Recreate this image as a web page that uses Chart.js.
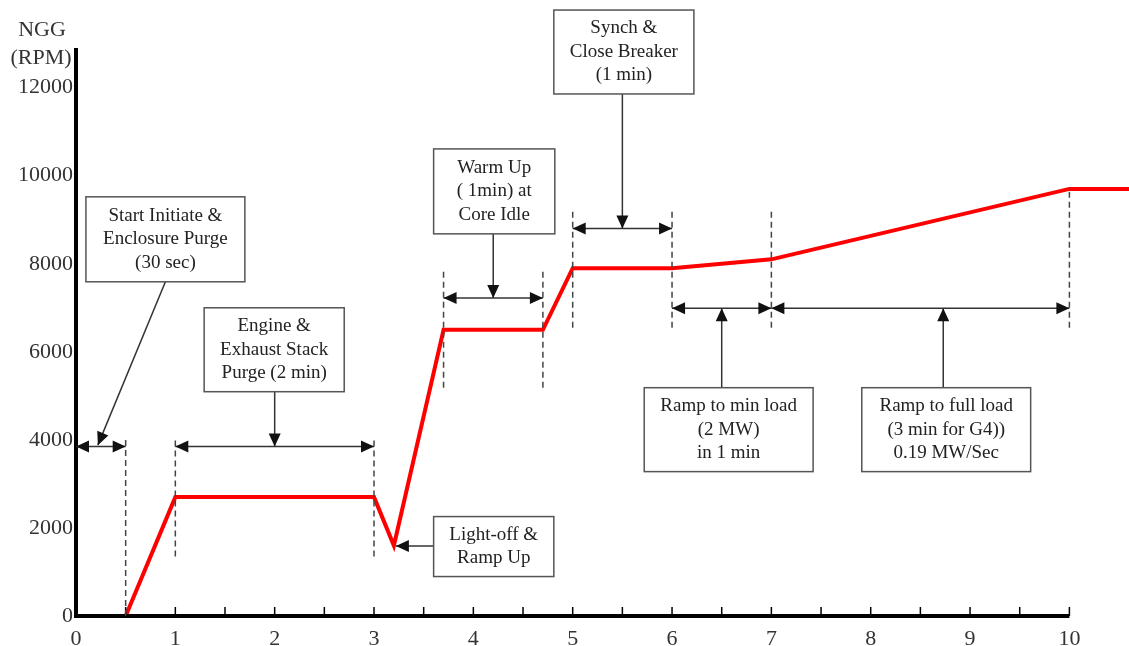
<!DOCTYPE html>
<html>
<head>
<meta charset="utf-8">
<script src="https://cdn.jsdelivr.net/npm/chart.js@4"></script>
<style>
  html, body { margin: 0; padding: 0; background: #fff; }
  #wrap { width: 1129px; height: 646px; }
</style>
</head>
<body>
<div id="wrap"><canvas id="nggChart"></canvas></div>
<script>
// start-up profile: time (min) vs NGG (RPM)
const timeMin = [0.5, 1, 3, 3.2, 3.7, 4.7, 5, 6, 7, 10, 10.6];
const nggRpm = [0, 2700, 2700, 1600, 6500, 6500, 7900, 7900, 8100, 9700, 9700];
const xTicks = [0, 1, 2, 3, 4, 5, 6, 7, 8, 9, 10];
const yTicks = [0, 2000, 4000, 6000, 8000, 10000, 12000];

// callouts, all in data units (min, RPM)
const boxes = [
  { lines: ['Start Initiate &', 'Enclosure Purge', '(30 sec)'], x1: 0.10, x2: 1.70, top: 9520, bottom: 7590 },
  { lines: ['Engine &', 'Exhaust Stack', 'Purge (2 min)'], x1: 1.29, x2: 2.70, top: 7000, bottom: 5094 },
  { lines: ['Light-off &', 'Ramp Up'], x1: 3.60, x2: 4.81, top: 2258, bottom: 896 },
  { lines: ['Warm Up', '( 1min) at', 'Core Idle'], x1: 3.60, x2: 4.82, top: 10608, bottom: 8679 },
  { lines: ['Synch &', 'Close Breaker', '(1 min)'], x1: 4.81, x2: 6.22, top: 13762, bottom: 11856 },
  { lines: ['Ramp to min load', '(2 MW)', 'in 1 min'], x1: 5.72, x2: 7.42, top: 5185, bottom: 3279 },
  { lines: ['Ramp to full load', '(3 min for G4))', '0.19 MW/Sec'], x1: 7.91, x2: 9.61, top: 5185, bottom: 3279 }
];
const spans = [
  { x1: 0, x2: 0.5, y: 3850 },
  { x1: 1, x2: 3, y: 3850 },
  { x1: 3.7, x2: 4.7, y: 7220 },
  { x1: 5, x2: 6, y: 8800 },
  { x1: 6, x2: 7, y: 6990 },
  { x1: 7, x2: 10, y: 6990 }
];
const pointers = [
  { x1: 0.90, y1: 7590, x2: 0.22, y2: 3880 },
  { x1: 2.0, y1: 5094, x2: 2.0, y2: 3850 },
  { x1: 3.60, y1: 1590, x2: 3.22, y2: 1590 },
  { x1: 4.2, y1: 8679, x2: 4.2, y2: 7220 },
  { x1: 5.5, y1: 11856, x2: 5.5, y2: 8800 },
  { x1: 6.5, y1: 5185, x2: 6.5, y2: 6990 },
  { x1: 8.73, y1: 5185, x2: 8.73, y2: 6990 }
];
const guides = [
  { x: 0.5, y1: 0, y2: 4070 },
  { x: 1, y1: 1350, y2: 4030 },
  { x: 3, y1: 1350, y2: 4030 },
  { x: 3.7, y1: 5185, y2: 7885 },
  { x: 4.7, y1: 5185, y2: 7885 },
  { x: 5, y1: 6546, y2: 9246 },
  { x: 6, y1: 6546, y2: 9246 },
  { x: 7, y1: 6546, y2: 9246 },
  { x: 10, y1: 6546, y2: 9745 }
];

const serif = 'Liberation Serif, "Times New Roman", serif';

function arrowHead(ctx, tx, ty, fx, fy) {
  const a = Math.atan2(ty - fy, tx - fx);
  const len = 13, half = 6;
  ctx.beginPath();
  ctx.moveTo(tx, ty);
  ctx.lineTo(tx - len * Math.cos(a) + half * Math.sin(a), ty - len * Math.sin(a) - half * Math.cos(a));
  ctx.lineTo(tx - len * Math.cos(a) - half * Math.sin(a), ty - len * Math.sin(a) + half * Math.cos(a));
  ctx.closePath();
  ctx.fill();
}

const overlay = {
  id: 'overlay',
  afterDatasetsDraw(chart) {
    const { ctx, chartArea } = chart;
    const xs = chart.scales.x, ys = chart.scales.y;
    const px = v => xs.getPixelForValue(v);
    const py = v => ys.getPixelForValue(v);
    ctx.save();

    // axes
    ctx.strokeStyle = '#000';
    ctx.lineWidth = 4;
    ctx.beginPath();
    ctx.moveTo(px(0), py(0) + 2);
    ctx.lineTo(px(0), chartArea.top);
    ctx.moveTo(px(0) - 2, py(0));
    ctx.lineTo(px(10), py(0));
    ctx.stroke();
    ctx.lineWidth = 1.5;
    ctx.beginPath();
    for (let t = 0.5; t <= 10; t += 0.5) {
      ctx.moveTo(px(t), py(0));
      ctx.lineTo(px(t), py(0) - 9);
    }
    ctx.stroke();

    // axis title
    ctx.fillStyle = '#333';
    ctx.font = '22px ' + serif;
    ctx.textAlign = 'center';
    ctx.textBaseline = 'middle';
    ctx.fillText('NGG', chartArea.left - 34, 30);
    ctx.fillText('(RPM)', chartArea.left - 35, 58);

    // dashed guides
    ctx.strokeStyle = '#444';
    ctx.lineWidth = 1.5;
    ctx.setLineDash([6, 4]);
    ctx.beginPath();
    guides.forEach(g => {
      ctx.moveTo(px(g.x), py(g.y1));
      ctx.lineTo(px(g.x), py(g.y2));
    });
    ctx.stroke();
    ctx.setLineDash([]);

    // double arrows
    ctx.strokeStyle = '#333';
    ctx.fillStyle = '#111';
    spans.forEach(s => {
      const a = px(s.x1), b = px(s.x2), y = py(s.y);
      ctx.beginPath();
      ctx.moveTo(a, y);
      ctx.lineTo(b, y);
      ctx.stroke();
      arrowHead(ctx, a, y, b, y);
      arrowHead(ctx, b, y, a, y);
    });

    // pointers
    pointers.forEach(p => {
      const x1 = px(p.x1), y1 = py(p.y1), x2 = px(p.x2), y2 = py(p.y2);
      ctx.beginPath();
      ctx.moveTo(x1, y1);
      ctx.lineTo(x2, y2);
      ctx.stroke();
      arrowHead(ctx, x2, y2, x1, y1);
    });

    // boxes
    ctx.font = '19px ' + serif;
    boxes.forEach(b => {
      const l = px(b.x1), r = px(b.x2), t = py(b.top), bt = py(b.bottom);
      ctx.fillStyle = '#fff';
      ctx.fillRect(l, t, r - l, bt - t);
      ctx.strokeStyle = '#555';
      ctx.lineWidth = 1.5;
      ctx.strokeRect(l, t, r - l, bt - t);
      ctx.fillStyle = '#222';
      const mid = (t + bt) / 2, lh = 23.5;
      b.lines.forEach((s, i) => {
        ctx.fillText(s, (l + r) / 2, mid + (i - (b.lines.length - 1) / 2) * lh);
      });
    });

    ctx.restore();
  }
};

new Chart(document.getElementById('nggChart'), {
  type: 'line',
  data: {
    datasets: [{
      data: timeMin.map((t, i) => ({ x: t, y: nggRpm[i] })),
      borderColor: '#ff0000',
      borderWidth: 4,
      pointRadius: 0,
      tension: 0,
      fill: false
    }]
  },
  options: {
    responsive: true,
    maintainAspectRatio: false,
    animation: false,
    layout: { padding: { top: 48, left: 0, right: 0, bottom: 0 } },
    plugins: { legend: { display: false }, tooltip: { enabled: false } },
    scales: {
      x: {
        type: 'linear',
        min: 0,
        max: 10.6,
        afterBuildTicks: s => { s.ticks = xTicks.map(v => ({ value: v })); },
        afterFit: s => { s.height = 30; },
        grid: { display: false, drawTicks: false },
        border: { display: false },
        ticks: { color: '#333', font: { family: serif, size: 22 }, padding: 10, maxRotation: 0, autoSkip: false, callback: v => String(v) }
      },
      y: {
        min: 0,
        max: 12900,
        afterBuildTicks: s => { s.ticks = yTicks.map(v => ({ value: v })); },
        afterFit: s => { s.width = 76; },
        grid: { display: false, drawTicks: false },
        border: { display: false },
        ticks: { color: '#333', font: { family: serif, size: 22 }, padding: 3, autoSkip: false, callback: v => String(v) }
      }
    }
  },
  plugins: [overlay]
});
</script>
</body>
</html>
